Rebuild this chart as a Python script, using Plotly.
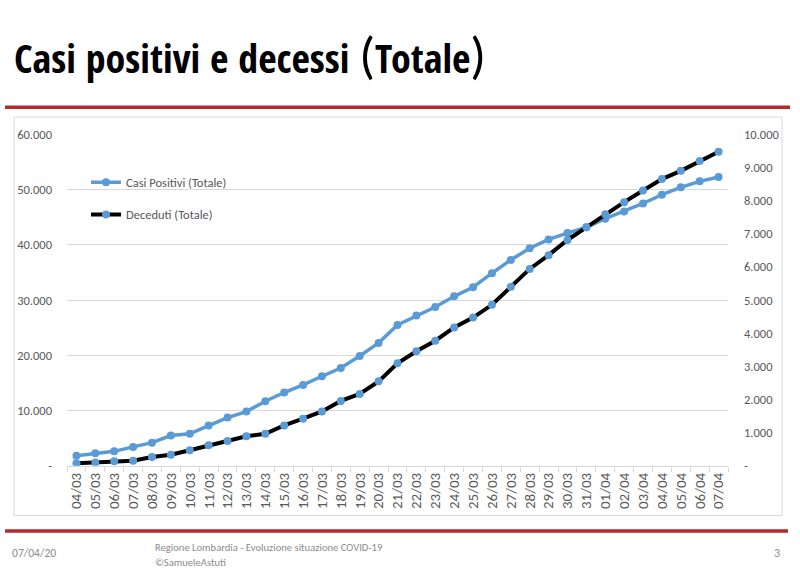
import plotly.graph_objects as go

dates = ["04/03", "05/03", "06/03", "07/03", "08/03", "09/03", "10/03", "11/03", "12/03",
         "13/03", "14/03", "15/03", "16/03", "17/03", "18/03", "19/03", "20/03", "21/03",
         "22/03", "23/03", "24/03", "25/03", "26/03", "27/03", "28/03", "29/03", "30/03",
         "31/03", "01/04", "02/04", "03/04", "04/04", "05/04", "06/04", "07/04"]
casi_positivi = [1820, 2251, 2612, 3420, 4189, 5469, 5791, 7280, 8725, 9820, 11685, 13272,
                 14649, 16220, 17713, 19884, 22264, 25515, 27206, 28761, 30703, 32346, 34889,
                 37298, 39415, 41007, 42161, 43208, 44773, 46065, 47520, 49118, 50455, 51534,
                 52325]
deceduti = [73, 98, 135, 154, 267, 333, 468, 617, 744, 890, 966, 1218, 1420, 1640, 1959, 2168,
            2549, 3095, 3456, 3776, 4178, 4474, 4861, 5402, 5944, 6360, 6818, 7199, 7593, 7960,
            8311, 8656, 8905, 9202, 9484]
left_tickvals = [0, 10000, 20000, 30000, 40000, 50000, 60000]
left_ticktext = ["-", "10.000", "20.000", "30.000", "40.000", "50.000", "60.000"]
right_tickvals = [0, 1000, 2000, 3000, 4000, 5000, 6000, 7000, 8000, 9000, 10000]
right_ticktext = ["-", "1.000", "2.000", "3.000", "4.000", "5.000", "6.000", "7.000", "8.000",
                  "9.000", "10.000"]

W, H = 800, 576


def px(x):
    return x / W


def py(y):
    return 1 - y / H


FONT = "Carlito, Calibri, Lato, sans-serif"
TITLE_FONT = "Open Sans Condensed, Roboto Condensed, sans-serif"
GRAY = "#595959"
FOOT = "#8C8C8C"
GRID = "#D9D9D9"
BLUE = "#5B9BD5"
RED = "#B3292C"

title_text = ("<b>Casi positivi e decessi </b>"
              "<span style='font-family:Carlito;font-size:52px;font-weight:normal'>(</span>"
              "<b>Totale</b>"
              "<span style='font-family:Carlito;font-size:52px;font-weight:normal'>)</span>")

fig = go.Figure()
fig.add_trace(go.Scatter(
    x=dates, y=casi_positivi, name="Casi Positivi (Totale)", mode="lines+markers",
    line=dict(color=BLUE, width=3.5), marker=dict(color=BLUE, size=8),
    legendgroup="a"))
fig.add_trace(go.Scatter(
    x=dates, y=deceduti, name="Deceduti (Totale)", yaxis="y2", mode="lines+markers",
    line=dict(color="black", width=4), marker=dict(color=BLUE, size=8),
    legendgroup="b"))

fig.update_layout(
    width=W, height=H, autosize=False,
    margin=dict(l=0, r=0, t=0, b=0),
    paper_bgcolor="white", plot_bgcolor="white",
    font=dict(family=FONT, color=GRAY, size=12),
    hovermode=False,
    xaxis=dict(
        domain=[px(67), px(728)], type="category", range=[-0.5, len(dates) - 0.5],
        tickangle=-90, ticks="outside", tickson="boundaries", ticklen=5, tickcolor=GRID,
        showline=True, linecolor=GRID, linewidth=1, showgrid=False,
        tickfont=dict(size=15, color=GRAY, family=FONT), fixedrange=True),
    yaxis=dict(
        domain=[py(470), py(130)], range=[0, 60000], tickvals=left_tickvals,
        ticktext=left_ticktext, showgrid=True, gridcolor=GRID, gridwidth=1,
        zeroline=False, showline=False, ticks="", ticklabelstandoff=14,
        tickfont=dict(size=12.5, color=GRAY, family=FONT), fixedrange=True),
    yaxis2=dict(
        overlaying="y", side="right", anchor="x", range=[0, 10000],
        tickvals=right_tickvals, ticktext=right_ticktext, showgrid=False,
        zeroline=False, showline=False, ticks="", ticklabelstandoff=15,
        tickfont=dict(size=12.5, color=GRAY, family=FONT), fixedrange=True),
    showlegend=True,
    legend=dict(x=px(86), y=py(164), xanchor="left", yanchor="top",
                bgcolor="rgba(0,0,0,0)", font=dict(size=12.5, color=GRAY, family=FONT),
                itemwidth=30, tracegroupgap=13, traceorder="grouped"),
    shapes=[
        dict(type="line", xref="paper", yref="paper", x0=px(5), x1=px(790),
             y0=py(102), y1=py(102), line=dict(color=RED, width=3.5)),
        dict(type="line", xref="paper", yref="paper", x0=px(5), x1=px(788),
             y0=py(537), y1=py(537), line=dict(color=RED, width=3.5)),
        dict(type="rect", xref="paper", yref="paper", x0=px(14), x1=px(782),
             y0=py(112), y1=py(521), line=dict(color=GRID, width=1)),
    ],
    annotations=[
        dict(text=title_text, xref="paper", yref="paper",
             x=px(12), y=py(48), xanchor="left", yanchor="middle", showarrow=False,
             font=dict(size=40, color="black", family=TITLE_FONT)),
        dict(text="07/04/20", xref="paper", yref="paper", x=px(10), y=py(560),
             xanchor="left", yanchor="middle", showarrow=False,
             font=dict(size=11.6, color=FOOT, family=FONT)),
        dict(text="Regione Lombardia - Evoluzione situazione COVID-19", xref="paper",
             yref="paper", x=px(153), y=py(554), xanchor="left", yanchor="middle",
             showarrow=False, font=dict(size=10.6, color=FOOT, family=FONT)),
        dict(text="©SamueleAstuti", xref="paper", yref="paper", x=px(153), y=py(569),
             xanchor="left", yanchor="middle", showarrow=False,
             font=dict(size=10.6, color=FOOT, family=FONT)),
        dict(text="3", xref="paper", yref="paper", x=px(782), y=py(560),
             xanchor="right", yanchor="middle", showarrow=False,
             font=dict(size=12, color=FOOT, family=FONT)),
    ],
)

fig.write_html("out.html", config={"displayModeBar": False},
               post_script="document.body.style.margin='0';")
